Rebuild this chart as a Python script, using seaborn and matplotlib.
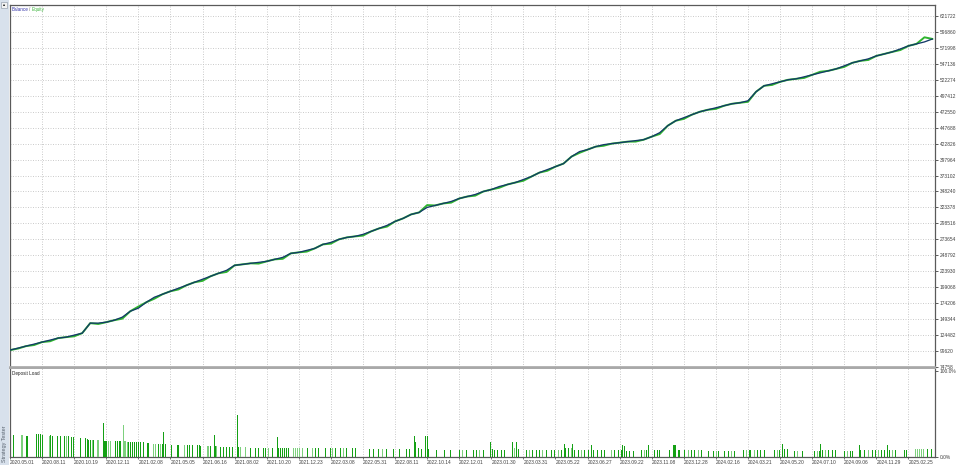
import numpy as np
import pandas as pd
import matplotlib
matplotlib.use("Agg")
import matplotlib.pyplot as plt
import seaborn as sns
from matplotlib.patches import Rectangle

# ---------------- data ----------------
date_labels = ["2020.05.01", "2020.08.11", "2020.10.19", "2020.12.11", "2021.02.08",
               "2021.05.05", "2021.06.16", "2021.08.02", "2021.10.20", "2021.12.23",
               "2022.03.08", "2022.05.31", "2022.08.11", "2022.10.14", "2022.12.01",
               "2023.01.30", "2023.03.31", "2023.05.22", "2023.06.27", "2023.09.22",
               "2023.11.08", "2023.12.28", "2024.02.16", "2024.03.21", "2024.05.20",
               "2024.07.10", "2024.09.06", "2024.11.29", "2025.02.25"]
deals_per_label = 32          # deal index step between date labels
deals_per_sample = 8          # balance/equity sampled every 8 deals

balance_k = [101.1, 104.2, 107.3, 110.4, 113.6, 116.7, 119.8, 121.3, 124.4, 127.5,
             143.1, 143.1, 144.6, 147.7, 152.4, 161.7, 166.4, 175.7, 183.5, 188.1,
             192.8, 197.5, 202.1, 206.8, 211.5, 216.1, 220.8, 225.4, 233.2, 234.7,
             236.3, 237.8, 239.4, 242.5, 245.6, 251.8, 253.4, 256.5, 259.6, 265.8,
             268.9, 273.6, 276.7, 278.3, 281.4, 286.0, 290.7, 295.4, 301.6, 306.3,
             312.5, 315.6, 323.4, 326.5, 329.6, 332.7, 337.3, 340.4, 343.6, 348.2,
             351.3, 356.0, 359.1, 362.2, 366.9, 371.5, 377.7, 382.4, 387.0, 391.7,
             402.6, 410.4, 413.5, 418.1, 421.2, 422.8, 424.3, 425.9, 427.5, 429.0,
             433.7, 439.9, 450.8, 458.5, 463.2, 467.9, 472.5, 475.6, 478.7, 481.8,
             484.9, 486.5, 489.6, 503.6, 512.9, 516.0, 519.1, 522.3, 523.8, 526.9,
             530.0, 533.1, 536.2, 539.3, 544.0, 548.7, 551.8, 554.9, 559.5, 562.6,
             565.8, 570.4, 575.1, 578.2, 581.3, 585.9]
equity_k = [101.1, 103.5, 107.3, 109.0, 113.6, 114.9, 119.8, 121.3, 122.6, 127.5,
            143.1, 141.8, 144.6, 147.7, 150.1, 161.7, 168.9, 175.7, 181.2, 188.1,
            192.8, 195.6, 202.1, 206.8, 209.0, 216.1, 220.8, 222.9, 233.2, 234.7,
            236.3, 235.9, 239.4, 242.5, 243.3, 251.8, 253.4, 254.6, 259.6, 265.8,
            267.0, 273.6, 276.7, 278.3, 279.5, 286.0, 290.7, 293.6, 301.6, 306.3,
            312.5, 315.6, 327.0, 326.5, 329.6, 330.9, 337.3, 340.4, 341.8, 348.2,
            351.3, 354.1, 359.1, 362.2, 365.0, 371.5, 377.7, 380.6, 387.0, 391.7,
            402.6, 408.5, 413.5, 418.1, 419.5, 422.8, 424.3, 425.9, 426.0, 429.0,
            433.7, 437.8, 450.8, 458.5, 461.4, 467.9, 472.5, 475.6, 477.0, 481.8,
            484.9, 486.5, 488.0, 503.6, 512.9, 514.3, 519.1, 522.3, 523.8, 525.2,
            530.0, 534.8, 536.2, 539.3, 542.4, 548.7, 551.8, 553.2, 559.5, 562.6,
            565.8, 568.7, 575.1, 578.2, 588.5, 585.9]

y_ticks = [621722, 596860, 571998, 547136, 522274, 497412, 472550, 447688, 422826,
           397964, 373102, 348240, 323378, 298516, 273654, 248792, 223930, 199068,
           174206, 149344, 124482, 99620, 74758]

load_deal = [3, 11, 12, 16, 17, 26, 28, 30, 32, 39, 40, 42, 47, 50, 54, 56, 58, 61, 63, 70,
             75, 77, 78, 80, 82, 83, 87, 88, 93, 94, 95, 96, 98, 100, 105, 107, 109, 110, 113, 114,
             115, 117, 118, 120, 122, 124, 126, 128, 130, 133, 137, 138, 143, 145, 148, 150, 152, 153, 155, 161,
             167, 168, 174, 177, 179, 182, 187, 189, 190, 197, 198, 200, 204, 205, 206, 210, 213, 216, 219, 222,
             227, 228, 230, 235, 240, 245, 248, 253, 255, 258, 262, 267, 268, 270, 272, 274, 276, 278, 283, 285,
             287, 289, 292, 297, 302, 305, 308,
             315, 320, 322, 325, 330, 333, 336, 342, 345, 359, 363, 368, 371, 375, 382, 388, 395, 398, 403, 404,
             407, 410, 414, 416, 417, 425, 433, 439, 448, 451, 455, 462, 465, 468, 472, 479, 481, 483, 486, 490,
             493, 501, 503, 505, 507, 515, 518, 521, 525, 528, 531, 535, 540, 543, 547, 550, 553, 554, 557, 560,
             561, 563, 567, 570, 573, 577, 580, 582, 586, 590, 593, 600, 603, 607, 610, 611, 613, 615, 618, 622,
             630, 633, 635, 637, 643, 646, 648, 658, 662, 663, 664, 667, 668, 673, 677, 680, 683, 687, 690, 697,
             702, 705, 707, 713, 717, 720, 723, 732, 735, 738, 742, 745, 748, 752, 762, 765, 767, 770, 772, 775,
             782, 785, 790, 802, 805, 807, 808, 810, 813, 816, 820, 823, 832, 835, 838, 840, 847, 848, 852, 856,
             860, 863, 866, 869, 872, 875, 877, 880, 883, 892, 894, 903, 905, 907, 909, 911, 915, 919]
load_pct = [26, 26, 26, 25, 25, 27, 27, 27, 26, 25, 26, 25, 24, 24, 24, 24, 24, 23, 23, 22,
            22, 21, 20, 20, 20, 20, 20, 20, 39, 19, 19, 19, 19, 19, 19, 19, 19, 18.6, 37, 18.6,
            18.6, 18, 18, 18, 17.5, 17.5, 17, 17, 17, 17, 16, 16, 15, 15, 15, 15, 15, 29.5, 14.7, 14,
            14, 14, 14, 14, 14, 14, 14, 14, 13, 13, 13, 13, 25.6, 13, 13, 12, 12, 12, 12, 12,
            48.8, 12, 12, 12, 11, 11, 11, 11, 11, 11, 11, 23, 11, 11, 11, 11, 11, 11, 11, 11,
            11, 11, 11, 11, 11, 11, 11,
            11, 11, 11, 11, 10, 10, 10, 10, 10, 9.7, 9.7, 9, 9, 9, 9, 9, 9, 9, 24, 17,
            11, 9, 24, 24, 9, 8, 8, 8, 8, 8, 8, 8, 8, 8, 8, 17, 9, 8, 8, 8,
            8, 17, 11, 17, 9, 8, 8, 8, 8, 8, 8, 8, 8, 8, 8, 8, 15.5, 11, 11, 11,
            14.7, 8, 8, 8, 8, 8, 13.6, 8, 8, 8, 8, 8, 8, 8, 8, 13.6, 12.8, 7, 7, 7,
            7.8, 7.8, 7.8, 13.6, 7.8, 7.8, 7.8, 7.8, 13.6, 13.6, 13.6, 7.8, 7.8, 7.8, 7.8, 7.8, 7.8, 7.8, 7.8, 7,
            7, 7, 7, 7, 7, 7, 7, 7.8, 7.8, 7.8, 7.8, 7.8, 7.8, 7.8, 7.8, 7.8, 7.8, 14.7, 8.9, 8.9,
            7, 7, 7, 7, 7, 7, 14.7, 7.8, 7.8, 7.8, 7.8, 7.8, 7, 7, 7, 7, 14, 7.8, 7.8, 7.8,
            7.8, 7.8, 7.8, 7.8, 7.8, 14, 7.8, 7.8, 7.8, 7.8, 7.8, 8.9, 8.9, 8.9, 8.9, 8.9, 8.9, 8.9]
load_shade = ["D", "L", "L", "D", "D", "D", "D", "D", "D", "L", "D", "D", "D", "D", "D", "L", "D", "D", "D", "D",
              "D", "D", "D", "D", "L", "D", "L", "L", "D", "D", "D", "D", "L", "L", "D", "D", "D", "D", "L", "L",
              "L", "L", "D", "D", "D", "D", "D", "D", "D", "D", "D", "D", "L", "L", "D", "L", "D", "D", "D", "D",
              "D", "D", "L", "D", "D", "D", "D", "D", "D", "L", "L", "D", "D", "D", "L", "D", "D", "D", "D", "D",
              "D", "D", "L", "L", "D", "D", "D", "D", "D", "L", "D", "D", "D", "D", "D", "D", "D", "D", "L", "L",
              "L", "L", "L", "D", "L", "D", "D",
              "D", "D", "L", "D", "D", "L", "D", "D", "D", "D", "D", "D", "L", "D", "D", "D", "D", "D", "D", "D",
              "D", "D", "D", "D", "D", "D", "D", "D", "D", "L", "D", "D", "D", "L", "D", "D", "D", "D", "D", "D",
              "D", "D", "L", "D", "D", "D", "L", "D", "D", "D", "L", "D", "D", "D", "L", "D", "D", "D", "D", "L",
              "D", "D", "D", "L", "D", "D", "D", "D", "D", "D", "D", "L", "D", "D", "D", "D", "D", "D", "D", "D",
              "D", "L", "D", "D", "D", "D", "D", "D", "D", "D", "D", "D", "D", "D", "L", "D", "D", "L", "D", "D",
              "D", "L", "D", "D", "D", "L", "D", "D", "L", "D", "L", "D", "D", "D", "D", "L", "D", "D", "D", "D",
              "D", "L", "D", "D", "L", "D", "D", "D", "L", "D", "D", "D", "D", "L", "D", "D", "D", "D", "D", "L",
              "D", "D", "L", "D", "D", "D", "D", "L", "D", "D", "D", "L", "L", "L", "L", "L", "D", "D"]

# ---------------- style ----------------
sns.set_theme(style="white")
plt.rcParams["font.family"] = ["Liberation Sans", "DejaVu Sans"]

W, H = 960, 465
fig = plt.figure(figsize=(W / 100, H / 100), dpi=100)
fig.patch.set_facecolor("white")


def rect(l, t, r, b):
    return [l / W, 1 - b / H, (r - l) / W, (b - t) / H]


ax = fig.add_axes(rect(9.5, 5, 935, 367))
ax2 = fig.add_axes(rect(9.5, 368, 935, 457), sharex=ax)

# left strip "Strategy Tester"
fig.patches.append(Rectangle((0, 0), 8.5 / W, 1, transform=fig.transFigure,
                             facecolor="#d8e1ec", edgecolor="none", zorder=0))
fig.patches.append(Rectangle((1 / W, 1 - 8 / H), 6 / W, 6 / H, transform=fig.transFigure,
                             facecolor="#f2f2f2", edgecolor="#9aa4b0", lw=0.5, zorder=1))
fig.text(4 / W, 1 - 4.6 / H, "■", fontsize=2.5, color="#202020", ha="center", va="center")
fig.text(4.3 / W, 1 - 462 / H, "Strategy Tester", rotation=90, fontsize=4.0,
         color="#5a6470", ha="center", va="bottom")

grid_kw = dict(color="#c4c4c4", lw=0.6, ls=(0, (1.2, 1.8)))
label_deals = [deals_per_label * i for i in range(len(date_labels))]

# ---------------- main panel ----------------
deal_x = np.arange(len(balance_k)) * deals_per_sample
df = pd.DataFrame({"deal": deal_x,
                   "balance": np.array(balance_k) * 1000,
                   "equity": np.array(equity_k) * 1000})

sns.lineplot(data=df, x="deal", y="equity", ax=ax, color="#2fb52f", lw=1.4, zorder=3)
sns.lineplot(data=df, x="deal", y="balance", ax=ax, color="#133a68", lw=0.95, zorder=4)

step = y_ticks[0] - y_ticks[1]
ax.set_ylim(y_ticks[-1], y_ticks[0] + step * 11 / 16)
ax.set_yticks(y_ticks)
ax.set_yticklabels([str(v) for v in y_ticks])
ax.yaxis.tick_right()
ax.tick_params(axis="y", which="both", right=True, length=2, width=0.6, pad=1.2,
               labelsize=3.5, colors="#404040")
ax.set_xticks(label_deals)
ax.tick_params(axis="x", bottom=False, labelbottom=False)
ax.set_xlim(-0.5, 922.5)
ax.grid(True, **grid_kw)
ax.set_xlabel("")
ax.set_ylabel("")
for s in ["top", "left", "right"]:
    ax.spines[s].set_color("#5a5a5a")
    ax.spines[s].set_linewidth(0.9)
ax.spines["bottom"].set_color("#a8a8a8")
ax.spines["bottom"].set_linewidth(1.2)

ax.text(12 / W, 1 - 9.5 / H, "Balance", transform=fig.transFigure, fontsize=3.3,
        color="#3434a8", va="center", ha="left")
ax.text(28.6 / W, 1 - 9.5 / H, "/", transform=fig.transFigure, fontsize=3.3,
        color="#606060", va="center", ha="left")
ax.text(32 / W, 1 - 9.5 / H, "Equity", transform=fig.transFigure, fontsize=3.3,
        color="#3cb43c", va="center", ha="left")

# ---------------- deposit load panel ----------------
shade_colors = {"D": "#14a014", "L": "#7dd07d"}
ldf = pd.DataFrame({"deal": load_deal, "load": load_pct, "shade": load_shade})
ax2.bar(ldf["deal"], ldf["load"], width=1.0, linewidth=0, antialiased=False,
        color=[shade_colors[s] for s in ldf["shade"]], zorder=3)
ax2.set_xlim(-0.5, 922.5)
ax2.set_ylim(0, 103.5)
ax2.set_yticks([0, 100])
ax2.set_yticklabels(["0.0%", "100.0%"])
ax2.yaxis.tick_right()
ax2.tick_params(axis="y", right=True, length=2, width=0.6, pad=1.2,
                labelsize=3.5, colors="#404040")
ax2.set_xticks(label_deals)
ax2.set_xticklabels(date_labels, ha="left")
ax2.tick_params(axis="x", bottom=True, length=1.5, width=0.5, pad=1.0,
                labelsize=3.5, colors="#404040")
ax2.xaxis.grid(True, **grid_kw)
ax2.yaxis.grid(False)
ax2.set_xlabel("")
ax2.set_ylabel("")
for s in ["bottom", "left", "right"]:
    ax2.spines[s].set_color("#5a5a5a")
    ax2.spines[s].set_linewidth(0.9)
ax2.spines["top"].set_color("#a8a8a8")
ax2.spines["top"].set_linewidth(1.4)
ax2.text(12 / W, 1 - 373.5 / H, "Deposit Load", transform=fig.transFigure, fontsize=3.3,
         color="#202020", va="center", ha="left")

fig.savefig("out.png", dpi=100, facecolor="white")
